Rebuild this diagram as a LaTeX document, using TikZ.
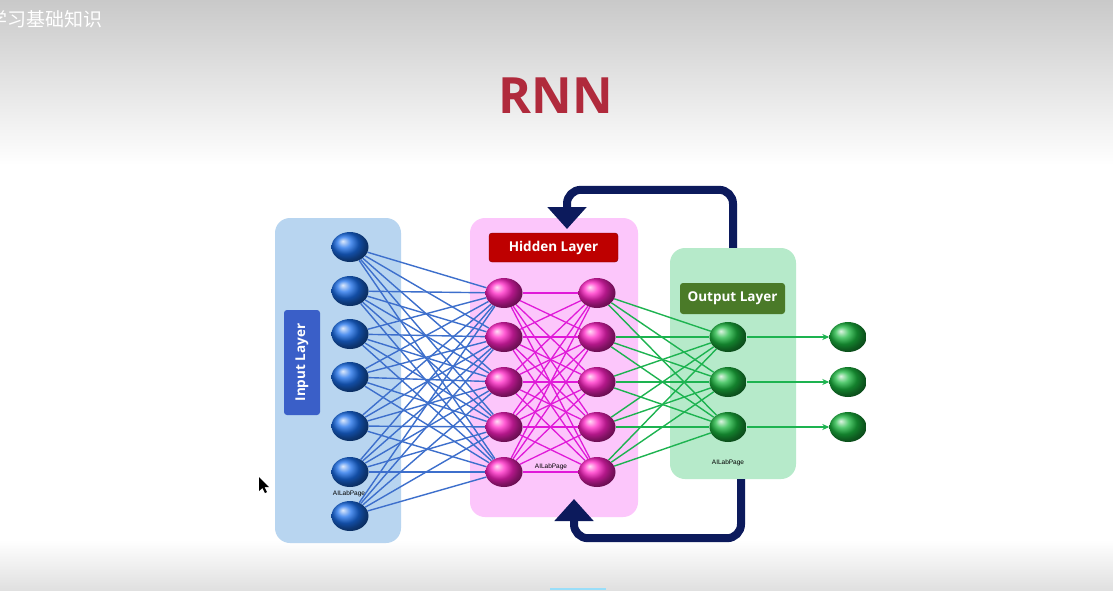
\documentclass[tikz,border=0pt]{standalone}
\usepackage{fontspec}
\setmainfont{Open Sans}
\newfontfamily\cjk{Noto Sans CJK SC}
\newfontfamily\tinysans{Liberation Sans}
\usetikzlibrary{shapes.geometric,arrows.meta}
\pgfdeclarelayer{fg}
\pgfsetlayers{main,fg}
\definecolor{bgtop}{HTML}{C9C9C9}
\definecolor{bgbot}{HTML}{E0E0E0}
\definecolor{inpanel}{HTML}{B8D5F0}
\definecolor{hidpanel}{HTML}{FCC6FB}
\definecolor{outpanel}{HTML}{B6EACA}
\definecolor{inlabel}{HTML}{3A5FC8}
\definecolor{hidlabel}{HTML}{BE0000}
\definecolor{outlabel}{HTML}{4A7A28}
\definecolor{inedge}{HTML}{3D6FCC}
\definecolor{hidedge}{HTML}{E01AD8}
\definecolor{outedge}{HTML}{1DB350}
\definecolor{navy}{HTML}{0C1A5C}
\definecolor{titlered}{HTML}{B02A3C}
\definecolor{bluenode}{HTML}{1A6EEA}
\definecolor{pinknode}{HTML}{FF22C4}
\definecolor{greennode}{HTML}{1CB840}
\tikzset{
  neuron/.style={ellipse, minimum width=37, minimum height=30, inner sep=0},
  inode/.style={neuron, ball color=bluenode},
  hnode/.style={neuron, ball color=pinknode},
  onode/.style={neuron, ball color=greennode},
  panel/.style={rectangle, rounded corners=15, inner sep=0},
  layerlabel/.style={rectangle, rounded corners=3, inner sep=0, text=white, font=\bfseries\fontsize{13.5}{15}\selectfont},
  wm/.style={font=\tinysans\fontsize{6.5}{7}\selectfont, inner sep=0},
  bedge/.style={draw=inedge, line width=1.4},
  medge/.style={draw=hidedge, line width=1.3},
  gedge/.style={draw=outedge, line width=1.4},
  feedback/.style={draw=navy, line width=8, rounded corners=14, -{Triangle[width=38pt,length=22pt]}},
}
\begin{document}
\begin{tikzpicture}[x=1pt,y=-1pt]
\useasboundingbox (0,0) rectangle (1113,590);
% background
\fill[white] (0,0) rectangle (1113,590);
\shade[top color=bgtop, bottom color=white] (0,0) rectangle (1113,165);
\shade[top color=white, bottom color=bgbot] (0,540) rectangle (1113,590);
\fill[cyan!40!white] (550,587.5) rectangle (606,590);
\node[anchor=west, text=white, font=\cjk\fontsize{19}{21}\selectfont, inner sep=0] (course) at (-11.5,19) {学习基础知识};
\node[text=titlered, font=\bfseries\fontsize{50}{54}\selectfont, inner sep=0] (title) at (556,96) {RNN};

% neurons (foreground layer)
\begin{pgfonlayer}{fg}
\foreach \y [count=\k] in {247,291,334,377,426,472,516}
  \node[inode] (i\k) at (350,\y) {};
\foreach \y [count=\k] in {293,337,382,427,472} {
  \node[hnode] (h\k) at (504,\y) {};
  \node[hnode] (g\k) at (597,\y) {};
}
\foreach \y [count=\k] in {337,382,427} {
  \node[onode] (o\k) at (728,\y) {};
  \node[onode] (f\k) at (848,\y) {};
}
\end{pgfonlayer}

% panels
\node[panel, fill=inpanel, minimum width=126, minimum height=325] (pin) at (338,380.5) {};
\node[panel, fill=hidpanel, minimum width=168, minimum height=299] (phid) at (554,367.5) {};
\node[panel, fill=outpanel, minimum width=126, minimum height=231] (pout) at (733,363.5) {};

% layer labels
\node[layerlabel, fill=inlabel, rotate=90, minimum width=105, minimum height=36] (lin) at (302,362.5) {Input Layer};
\node[layerlabel, fill=hidlabel, draw=hidlabel!70!black, minimum width=129, minimum height=29] (lhid) at (553.5,247.5) {Hidden Layer};
\node[layerlabel, fill=outlabel, minimum width=105, minimum height=31] (lout) at (732.5,298.5) {Output Layer};

% watermarks
\node[wm] (wm1) at (349,494) {AILabPage};
\node[wm] (wm2) at (551,467) {AILabPage};
\node[wm] (wm3) at (728,463) {AILabPage};

% connections
\foreach \a in {1,...,7}
  \foreach \b in {1,...,5}
    \draw[bedge] (i\a) -- (h\b);
\foreach \a in {1,...,5}
  \foreach \b in {1,...,5}
    \draw[medge] (h\a) -- (g\b);
\foreach \a in {1,...,5}
  \foreach \b in {1,...,3}
    \draw[gedge] (g\a) -- (o\b);
\foreach \k in {1,2,3}
  \draw[gedge, -{Stealth[length=7,width=6]}] (o\k) -- (f\k);

% recurrent feedback loops
\coordinate (topin) at (567,229);
\coordinate (botin) at (574,499);
\draw[feedback] (pout.north) -- ++(0,-58) -| (topin);
\draw[feedback] ([xshift=8]pout.south) -- ++(0,59) -| (botin);

% mouse cursor
\fill[black] (259,477) -- (259,491) -- (262.5,488) -- (265,493) -- (267,492) -- (264.5,487) -- (269,487) -- cycle;
\end{tikzpicture}
\end{document}
